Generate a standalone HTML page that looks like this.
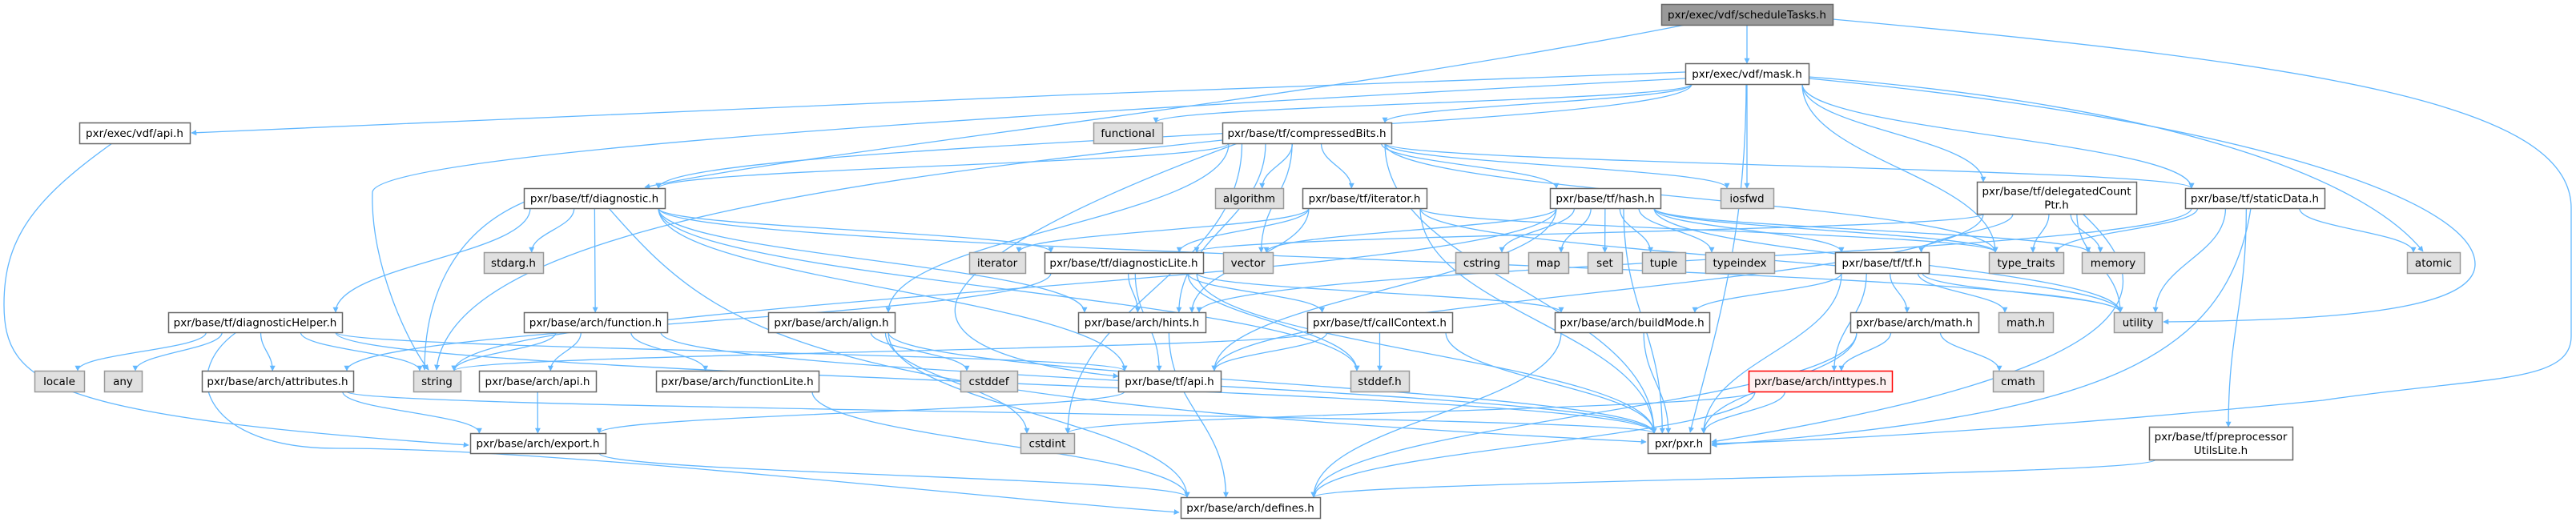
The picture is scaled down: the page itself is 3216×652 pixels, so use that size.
<!DOCTYPE html>
<html><head><meta charset="utf-8"><style>
html,body{margin:0;padding:0;background:#fff;}
svg{display:block;}
text{font-family:"DejaVu Sans","Liberation Sans",sans-serif;font-size:13.5px;fill:#000;}
</style></head><body>
<svg id="g" width="3216" height="652" viewBox="0 0 3216 652" xmlns="http://www.w3.org/2000/svg">
<defs><marker id="a" viewBox="0 0 10 10" refX="9" refY="5" markerWidth="7" markerHeight="7" orient="auto" markerUnits="userSpaceOnUse"><path d="M0,0 L10,5 L0,10 z" fill="#63b8ff"/></marker></defs>
<g id="edges" fill="none" stroke="#63b8ff" stroke-width="1.3"></g>
<g id="nodes"></g>
</svg>
<script>
var N={
st:[2074,5,2288,31,"pxr/exec/vdf/scheduleTasks.h",2],
mask:[2104,79,2258,105,"pxr/exec/vdf/mask.h",0],
vapi:[99,153,237,179,"pxr/exec/vdf/api.h",0],
functional:[1365,153,1451,179,"functional",1],
cb:[1526,153,1737,179,"pxr/base/tf/compressedBits.h",0],
diag:[654,235,830,260,"pxr/base/tf/diagnostic.h",0],
algorithm:[1517,235,1602,260,"algorithm",1],
titer:[1626,235,1781,260,"pxr/base/tf/iterator.h",0],
hash:[1935,235,2073,260,"pxr/base/tf/hash.h",0],
iosfwd:[2148,235,2214,260,"iosfwd",1],
dcp:[2468,227,2667,267,"pxr/base/tf/delegatedCount|Ptr.h",0],
sd:[2728,235,2902,260,"pxr/base/tf/staticData.h",0],
stdarg:[604,315,678,341,"stdarg.h",1],
iterator:[1210,315,1280,341,"iterator",1],
dl:[1304,315,1502,341,"pxr/base/tf/diagnosticLite.h",0],
vector:[1527,315,1589,341,"vector",1],
cstring:[1817,315,1883,341,"cstring",1],
map:[1908,315,1958,341,"map",1],
set:[1982,315,2025,341,"set",1],
tuple:[2050,315,2104,341,"tuple",1],
typeindex:[2129,315,2215,341,"typeindex",1],
tf:[2291,315,2408,341,"pxr/base/tf/tf.h",0],
tt:[2483,315,2576,341,"type_traits",1],
memory:[2599,315,2677,341,"memory",1],
atomic:[3005,315,3071,341,"atomic",1],
dh:[210,390,427,415,"pxr/base/tf/diagnosticHelper.h",0],
func:[654,390,833,415,"pxr/base/arch/function.h",0],
align:[959,390,1117,415,"pxr/base/arch/align.h",0],
hints:[1346,390,1505,415,"pxr/base/arch/hints.h",0],
cc:[1632,390,1813,415,"pxr/base/tf/callContext.h",0],
bm:[1941,390,2134,415,"pxr/base/arch/buildMode.h",0],
amath:[2310,390,2470,415,"pxr/base/arch/math.h",0],
mathh:[2495,390,2563,415,"math.h",1],
utility:[2639,390,2699,415,"utility",1],
locale:[43,463,105,489,"locale",1],
any:[130,463,177,489,"any",1],
attr:[252,463,441,489,"pxr/base/arch/attributes.h",0],
string:[516,463,575,489,"string",1],
aapi:[598,463,744,489,"pxr/base/arch/api.h",0],
fl:[819,463,1022,489,"pxr/base/arch/functionLite.h",0],
cstddef:[1199,463,1270,489,"cstddef",1],
tapi:[1396,463,1524,489,"pxr/base/tf/api.h",0],
stddef:[1686,463,1759,489,"stddef.h",1],
inttypes:[2183,463,2362,489,"pxr/base/arch/inttypes.h",3],
cmath:[2488,463,2551,489,"cmath",1],
exp:[587,541,756,566,"pxr/base/arch/export.h",0],
cstdint:[1274,541,1341,566,"cstdint",1],
pxr:[2057,541,2135,566,"pxr/pxr.h",0],
pp:[2683,533,2862,574,"pxr/base/tf/preprocessor|UtilsLite.h",0],
def:[1474,621,1648,647,"pxr/base/arch/defines.h",0]
};
var E={
st:["mask","diag","pxr"],
mask:["vapi","functional","cb","diag","string","iosfwd","dcp","sd","atomic","utility","pxr","tt"],
vapi:["exp"],
cb:["diag","algorithm","titer","hash","vector","iosfwd","sd","string","align","tapi","pxr","tt","cstdint","hints"],
diag:["stdarg","dh","func","string","dl","hints","stddef","pxr","tapi","utility"],
dh:["locale","any","attr","string","tapi","pxr","def"],
func:["string","aapi","fl","pxr"],
align:["cstddef","cstdint","pxr","def"],
attr:["exp","pxr"],
aapi:["exp"],
exp:["def"],
fl:["def"],
titer:["iterator","dl","hints","tt","utility","pxr"],
hash:["cstring","map","set","tuple","typeindex","tt","memory","utility","vector","tf","tapi","string","pxr"],
dl:["hints","tapi","cc","bm","stddef","pxr","attr"],
cc:["string","tapi","stddef","pxr"],
hints:["def"],
bm:["pxr","def"],
tapi:["exp"],
dcp:["dl","tf","tt","memory","utility","pxr","tapi"],
sd:["tt","atomic","pp","pxr","hints","utility"],
tf:["bm","mathh","amath","inttypes","utility","pxr"],
amath:["inttypes","cmath","pxr","def"],
inttypes:["cstdint","pxr","def"],
pp:["def"]
};
var O={
"st>pxr":"M2288,24 C2900,80 3210,130 3210,260 L3210,420 C3210,480 3100,470 2900,500 C2600,530 2300,550 2137,554",
"mask>vapi":"M2104,90 C1500,110 800,140 239,166",
"mask>string":"M2104,98 C1300,140 470,190 465,240 C462,330 510,430 535,462",
"st>diag":"M2104,31 C1600,130 1000,190 805,234",
"vapi>exp":"M140,179 C40,250 5,300 5,380 C5,480 60,520 585,556",
"dh>def":"M295,415 C220,470 260,560 420,560 C700,560 1200,620 1472,640",
"mask>utility":"M2258,98 C2800,150 3090,250 3090,330 C3090,390 2900,400 2701,402",
"mask>atomic":"M2258,96 C2700,130 2950,220 3025,314",
"mask>pxr":"M2180,105 C2180,300 2140,420 2110,540",
"diag>string":"M660,250 C560,290 530,380 530,462",
"diag>pxr":"M760,260 C900,420 1000,500 2055,552",
"cb>string":"M1526,175 C1000,230 560,300 545,462",
"cb>tapi":"M1545,179 C1000,380 1200,450 1396,470",
"sd>pxr":"M2810,260 C2780,460 2600,520 2137,556",
"dcp>pxr":"M2600,267 C2700,360 2700,460 2137,552"
};
var ns="http://www.w3.org/2000/svg",eg=document.getElementById("edges"),ng=document.getElementById("nodes");
for(var s in E){E[s].forEach(function(t){var a=N[s],b=N[t],d=O[s+">"+t];
 var sx=(a[0]+a[2])/2,tx=(b[0]+b[2])/2;
 if(d){}else if(b[1]>a[3]+5){
  var sy=a[3],ty=b[1];
  sx=sx+Math.max(-(a[2]-a[0])/2+8,Math.min((a[2]-a[0])/2-8,(tx-sx)*0.25));
  var ex=tx+Math.max(-(b[2]-b[0])/2+8,Math.min((b[2]-b[0])/2-8,(sx-tx)*0.3));
  var dy=ty-sy;
  d="M"+sx+","+sy+" C"+sx+","+(sy+dy*0.45)+" "+ex+","+(ty-dy*0.45)+" "+ex+","+ty;
 }else{
  var sy=(a[1]+a[3])/2,ty=(b[1]+b[3])/2,x1,x2;
  if(tx<sx){x1=a[0];x2=b[2];}else{x1=a[2];x2=b[0];}
  d="M"+x1+","+sy+" C"+((x1+x2)/2)+","+sy+" "+((x1+x2)/2)+","+ty+" "+x2+","+ty;
 }
 var p=document.createElementNS(ns,"path");p.setAttribute("d",d);p.setAttribute("marker-end","url(#a)");eg.appendChild(p);
});}
for(var k in N){var n=N[k],r=document.createElementNS(ns,"rect");
 r.setAttribute("x",n[0]+0.5);r.setAttribute("y",n[1]+0.5);r.setAttribute("width",n[2]-n[0]);r.setAttribute("height",n[3]-n[1]);
 var f="#fff",sc="#666";if(n[5]==1){f="#e0e0e0";sc="#999";}if(n[5]==2){f="#999";sc="#666";}if(n[5]==3){f="#fff0f0";sc="#f00";}
 r.setAttribute("fill",f);r.setAttribute("stroke",sc);r.setAttribute("stroke-width","1.5");ng.appendChild(r);
 var lines=n[4].split("|"),cx=(n[0]+n[2])/2,cy=(n[1]+n[3])/2;
 lines.forEach(function(L,i){var t=document.createElementNS(ns,"text");t.setAttribute("x",cx);
  t.setAttribute("y",cy+5+(i-(lines.length-1)/2)*17);t.setAttribute("text-anchor","middle");t.textContent=L;ng.appendChild(t);});
}
</script>
</body></html>
